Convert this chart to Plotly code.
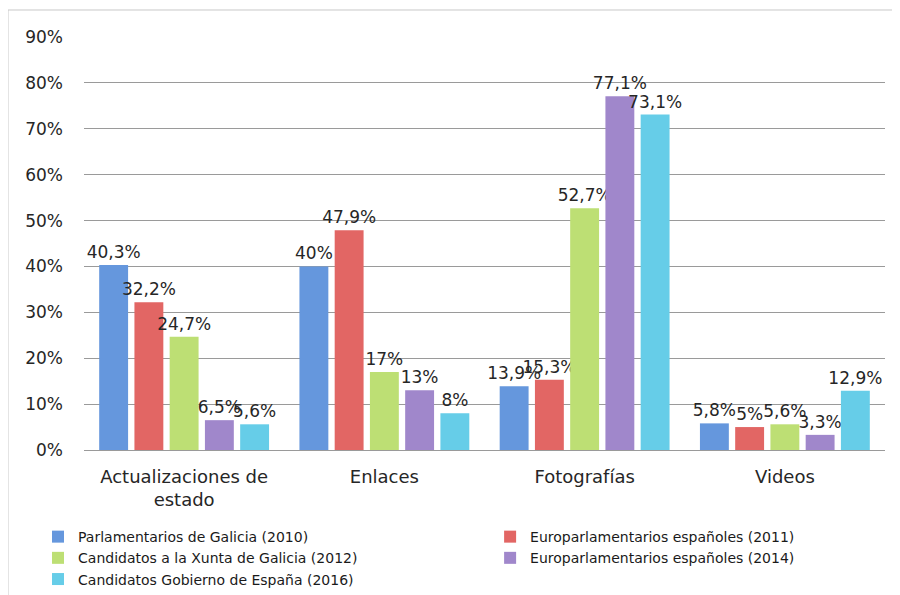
import plotly.graph_objects as go

categories = ["Actualizaciones de<br>estado", "Enlaces", "Fotografías", "Videos"]
series_names = [
    "Parlamentarios de Galicia (2010)",
    "Europarlamentarios españoles (2011)",
    "Candidatos a la Xunta de Galicia (2012)",
    "Europarlamentarios españoles (2014)",
    "Candidatos Gobierno de España (2016)",
]
parl_galicia_2010 = [40.3, 40.0, 13.9, 5.8]
europarl_2011 = [32.2, 47.9, 15.3, 5.0]
xunta_2012 = [24.7, 17.0, 52.7, 5.6]
europarl_2014 = [6.5, 13.0, 77.1, 3.3]
gobierno_2016 = [5.6, 8.0, 73.1, 12.9]
series_values = [parl_galicia_2010, europarl_2011, xunta_2012, europarl_2014, gobierno_2016]
y_ticks = [0, 10, 20, 30, 40, 50, 60, 70, 80, 90]
y_tick_labels = [f"{t}%" for t in y_ticks]

colors = ["#6597DD", "#E26664", "#BDDF74", "#A087CB", "#66CDE8"]
legend_ids = ["legend", "legend2", "legend", "legend2", "legend"]

FONT = "DejaVu Sans, Verdana, sans-serif"

def fmt(v):
    return f"{v:g}".replace(".", ",") + "%"

fig = go.Figure()
for name, vals, col, lg in zip(series_names, series_values, colors, legend_ids):
    fig.add_trace(go.Bar(
        x=categories, y=vals, name=name,
        marker=dict(color=col, line=dict(width=0)),
        text=[fmt(v) for v in vals],
        textposition="outside",
        textangle=0,
        constraintext="none",
        textfont=dict(size=17, color="#262626", family=FONT),
        cliponaxis=False,
        legend=lg,
    ))

legend_common = dict(
    orientation="v", yanchor="top", xanchor="left",
    font=dict(size=14, color="#1a1a1a", family=FONT),
    itemwidth=30, tracegroupgap=0,
    bgcolor="rgba(0,0,0,0)",
)

fig.update_layout(
    width=900, height=595,
    barmode="group", bargap=0.12, bargroupgap=0.18,
    plot_bgcolor="white", paper_bgcolor="white",
    margin=dict(l=76, r=23, t=29, b=153, autoexpand=False),
    font=dict(family=FONT, size=17, color="#262626"),
    showlegend=True,
    legend=dict(x=-0.0574, y=-0.172, **legend_common),
    legend2=dict(x=0.507, y=-0.172, **legend_common),
    shapes=[dict(type="rect", xref="paper", yref="paper",
                 x0=-0.0949, x1=1.3, y0=-0.6, y1=1.0654,
                 line=dict(color="#c8c8c8", width=1), fillcolor="rgba(0,0,0,0)", layer="below")],
)
fig.update_yaxes(
    range=[0, 90], tickvals=y_ticks, ticktext=y_tick_labels,
    showgrid=True, gridcolor="#9a9a9a", gridwidth=1,
    zeroline=True, zerolinecolor="#9a9a9a", zerolinewidth=1,
    showline=False, ticklabelstandoff=20,
    tickfont=dict(size=17, color="#262626", family=FONT),
)
fig.update_xaxes(
    showgrid=False, showline=False,
    tickfont=dict(size=18, color="#262626", family=FONT),
    ticklabelstandoff=14,
)

fig.write_html("out.html")
